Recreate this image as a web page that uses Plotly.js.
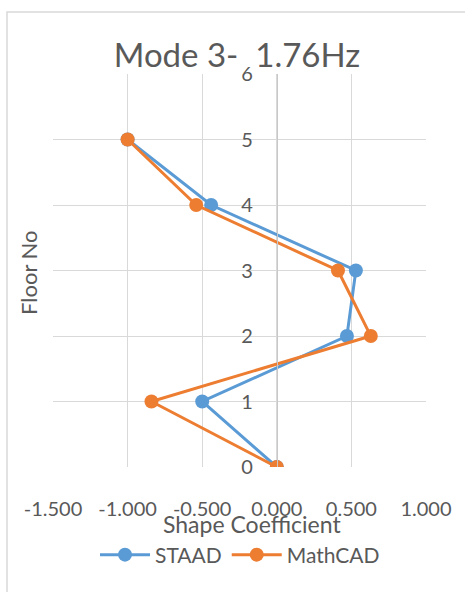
<!DOCTYPE html>
<html>
<head>
<meta charset="utf-8">
<script src="https://cdn.plot.ly/plotly-3.0.1.min.js"></script>
<style>
  html, body { margin: 0; padding: 0; background: #ffffff; }
  #chart { width: 465px; height: 592px; }
</style>
</head>
<body>
<div id="chart"></div>
<script>
// Floor levels (vertical axis)
const floors = [0, 1, 2, 3, 4, 5];

// Mode shape coefficients per floor
const staadShape = [0.0, -0.50, 0.47, 0.53, -0.44, -1.0];
const mathcadShape = [0.0, -0.84, 0.63, 0.41, -0.54, -1.0];

// Horizontal axis ticks
const xTickVals = [-1.5, -1.0, -0.5, 0.0, 0.5, 1.0];
const xTickText = ['-1.500', '-1.000', '-0.500', '0.000', '0.500', '1.000'];

// Vertical axis ticks
const yTickVals = [0, 1, 2, 3, 4, 5, 6];
const yTickText = ['0', '1', '2', '3', '4', '5', '6'];

const FONT = 'Lato, "Open Sans", sans-serif';
const TEXT_GREY = '#595959';
const GRID = '#d9d9d9';

// plot area in pixels: x 53..426, y 74..467
const px = v => (v - 53) / 373;
const py = v => (467 - v) / 393;

const traces = [
  {
    name: 'STAAD',
    x: staadShape,
    y: floors,
    type: 'scatter',
    mode: 'lines+markers',
    line: { color: '#5b9bd5', width: 3 },
    marker: { color: '#5b9bd5', size: 14 }
  },
  {
    name: 'MathCAD',
    x: mathcadShape,
    y: floors,
    type: 'scatter',
    mode: 'lines+markers',
    line: { color: '#ed7d31', width: 3 },
    marker: { color: '#ed7d31', size: 14 }
  }
];

const layout = {
  width: 465,
  height: 592,
  paper_bgcolor: '#ffffff',
  plot_bgcolor: '#ffffff',
  margin: { l: 53, r: 39, t: 74, b: 125, pad: 0 },
  font: { family: FONT, color: TEXT_GREY, size: 20 },
  showlegend: true,
  title: {
    text: 'Mode 3-\u00a0\u00a01.76Hz',
    font: { family: FONT, size: 33, color: TEXT_GREY },
    x: 237 / 465,
    xanchor: 'center',
    y: 1 - 55 / 592,
    yanchor: 'middle'
  },
  xaxis: {
    range: [-1.5, 1.0],
    tickvals: xTickVals,
    ticktext: xTickText,
    showgrid: true,
    gridcolor: GRID,
    gridwidth: 1,
    zeroline: false,
    showline: false,
    ticks: '',
    ticklabelstandoff: 28,
    tickfont: { family: FONT, size: 20, color: TEXT_GREY },
    fixedrange: true
  },
  yaxis: {
    range: [0, 6],
    tickvals: yTickVals,
    ticktext: yTickText,
    anchor: 'free',
    position: 0.6,
    showgrid: true,
    gridcolor: GRID,
    gridwidth: 1,
    zeroline: false,
    showline: true,
    linecolor: '#c8c8c8',
    linewidth: 1,
    ticks: '',
    ticklabelstandoff: 20,
    tickfont: { family: FONT, size: 20, color: TEXT_GREY },
    fixedrange: true
  },
  legend: {
    orientation: 'h',
    x: px(240),
    xanchor: 'center',
    y: -(555 - 467) / 393,
    yanchor: 'middle',
    itemwidth: 50,
    font: { family: FONT, size: 21, color: TEXT_GREY },
    bgcolor: 'rgba(0,0,0,0)'
  },
  annotations: [
    {
      text: 'Shape Coefficient',
      xref: 'paper', yref: 'paper',
      x: px(252), y: py(524),
      xanchor: 'center', yanchor: 'middle',
      showarrow: false,
      font: { family: FONT, size: 23, color: TEXT_GREY }
    },
    {
      text: 'Floor No',
      xref: 'paper', yref: 'paper',
      x: px(28), y: py(273),
      xanchor: 'center', yanchor: 'middle',
      textangle: -90,
      showarrow: false,
      font: { family: FONT, size: 22, color: TEXT_GREY }
    }
  ],
  shapes: [
    {
      // outer chart frame
      type: 'rect',
      xref: 'paper', yref: 'paper',
      x0: px(7), x1: px(480),
      y0: py(610), y1: py(12),
      line: { color: '#d9d9d9', width: 1.5 },
      fillcolor: 'rgba(0,0,0,0)',
      layer: 'below'
    }
  ]
};

Plotly.newPlot('chart', traces, layout, { displayModeBar: false, staticPlot: true });
</script>
</body>
</html>
